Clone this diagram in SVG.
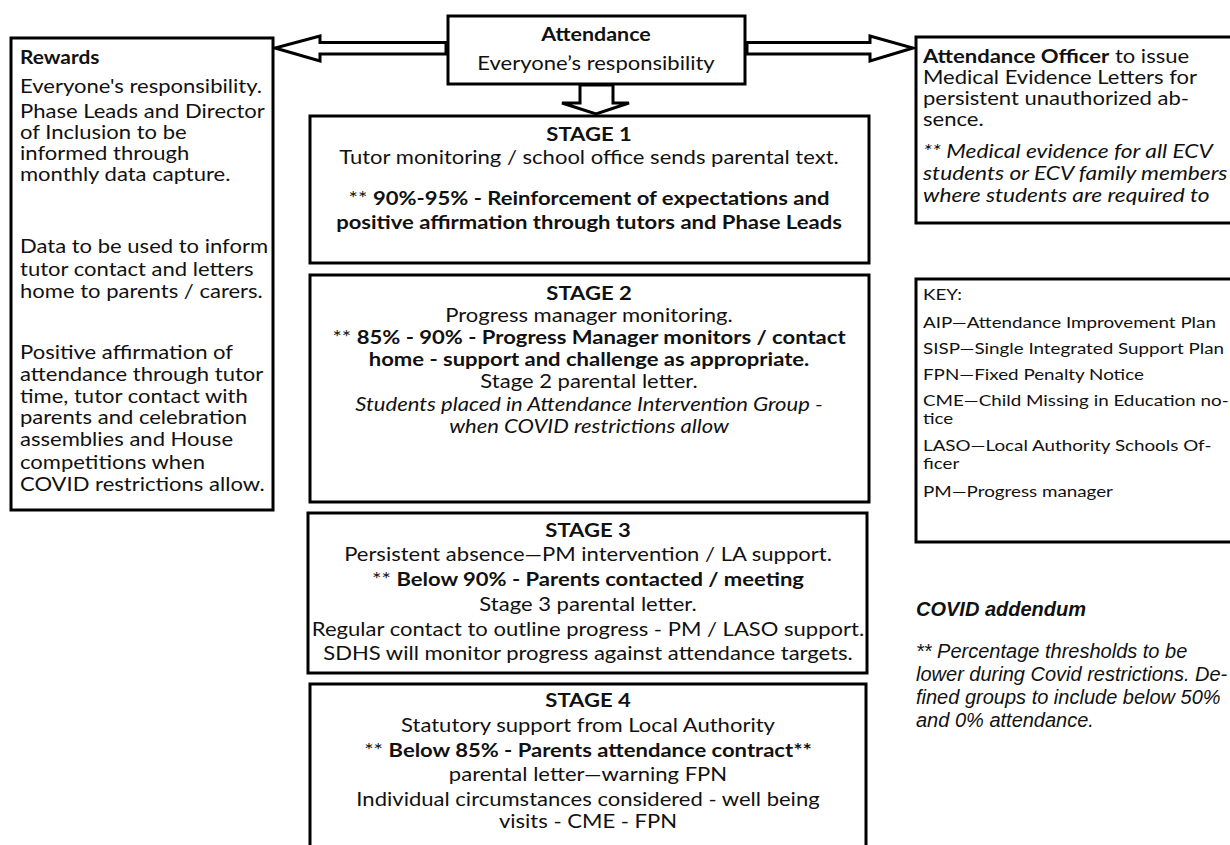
<svg xmlns="http://www.w3.org/2000/svg" width="1230" height="845" viewBox="0 0 1230 845">
<style>
.box{fill:#fff;stroke:#000;stroke-width:3}
.arr{fill:#fff;stroke:#000;stroke-width:3;stroke-linejoin:miter}
.t{font-family:Lato,"Open Sans","DejaVu Sans",sans-serif;fill:#111}
.c{text-anchor:middle}
.b{font-weight:bold}
.n{font-weight:normal}
.i{font-style:italic}
.a{font-family:"Liberation Sans",Arial,sans-serif;font-style:italic;fill:#111;font-size:20px}
</style>
<rect width="1230" height="845" fill="#fff"/>
<g id="connectors">
<polygon class="arr" points="446,42.5 320,42.5 320,36 275,48 320,61 320,54 446,54"/>
<polygon class="arr" points="747,42.5 870,42.5 870,36 913,48 870,61 870,54 747,54"/>
<polygon class="arr" points="580,85 613,85 613,103 629,103 596,114 562,103 580,103"/>
</g>
<g id="attendance">
<rect class="box" x="448" y="16" width="297" height="68"/>
<g class="t c" font-size="19" transform="translate(596,0) scale(1.16,1)">
<text class="b" x="0" y="41" font-size="18.5">Attendance</text>
<text x="0" y="70">Everyone’s responsibility</text>
</g>
</g>
<g id="rewards">
<rect class="box" x="11" y="38" width="262" height="472"/>
<g class="t" font-size="19" transform="translate(20,0) scale(1.16,1)">
<text class="b" x="0" y="64" font-size="18">Rewards</text>
<text x="0" y="93">Everyone's responsibility.</text>
<text x="0" y="118">Phase Leads and Director</text>
<text x="0" y="139">of Inclusion to be</text>
<text x="0" y="160">informed through</text>
<text x="0" y="181">monthly data capture.</text>
<text x="0" y="253">Data to be used to inform</text>
<text x="0" y="276">tutor contact and letters</text>
<text x="0" y="298">home to parents / carers.</text>
<text x="0" y="359">Positive affirmation of</text>
<text x="0" y="381">attendance through tutor</text>
<text x="0" y="403">time, tutor contact with</text>
<text x="0" y="424">parents and celebration</text>
<text x="0" y="446">assemblies and House</text>
<text x="0" y="469">competitions when</text>
<text x="0" y="491">COVID restrictions allow.</text>
</g>
</g>
<g id="officer">
<rect class="box" x="916" y="37" width="320" height="186"/>
<g class="t" font-size="19" transform="translate(923,0) scale(1.16,1)">
<text x="0" y="63"><tspan class="b">Attendance Officer</tspan> to issue</text>
<text x="0" y="84">Medical Evidence Letters for</text>
<text x="0" y="105">persistent unauthorized ab-</text>
<text x="0" y="126">sence.</text>
<text class="i" x="0" y="158" font-size="19.6">** Medical evidence for all ECV</text>
<text class="i" x="0" y="180" font-size="19.6">students or ECV family members</text>
<text class="i" x="0" y="202" font-size="19.6">where students are required to</text>
</g>
</g>
<g id="key">
<rect class="box" x="916" y="279" width="320" height="263"/>
<g class="t" font-size="16.2" transform="translate(923,0) scale(1.16,1)">
<text x="0" y="300">KEY:</text>
<text x="0" y="328">AIP—Attendance Improvement Plan</text>
<text x="0" y="354">SISP—Single Integrated Support Plan</text>
<text x="0" y="380">FPN—Fixed Penalty Notice</text>
<text x="0" y="406">CME—Child Missing in Education no-</text>
<text x="0" y="424">tice</text>
<text x="0" y="451">LASO—Local Authority Schools Of-</text>
<text x="0" y="469">ficer</text>
<text x="0" y="497">PM—Progress manager</text>
</g>
</g>
<g id="covid">
<text class="a b" x="916" y="616">COVID addendum</text>
<text class="a" x="916" y="658">** Percentage thresholds to be</text>
<text class="a" x="916" y="681">lower during Covid restrictions. De-</text>
<text class="a" x="916" y="704">fined groups to include below 50%</text>
<text class="a" x="916" y="727">and 0% attendance.</text>
</g>
<g id="stage1">
<rect class="box" x="310" y="116" width="559" height="147"/>
<g class="t c" font-size="19" transform="translate(589,0) scale(1.16,1)">
<text class="b" x="0" y="141">STAGE 1</text>
<text x="0" y="164">Tutor monitoring / school office sends parental text.</text>
<text class="b" x="0" y="205"><tspan class="n">** </tspan>90%-95% - Reinforcement of expectations and</text>
<text class="b" x="0" y="229">positive affirmation through tutors and Phase Leads</text>
</g>
</g>
<g id="stage2">
<rect class="box" x="310" y="275" width="559" height="227"/>
<g class="t c" font-size="19" transform="translate(589,0) scale(1.16,1)">
<text class="b" x="0" y="300">STAGE 2</text>
<text x="0" y="322">Progress manager monitoring.</text>
<text class="b" x="0" y="344"><tspan class="n">** </tspan>85% - 90% - Progress Manager monitors / contact</text>
<text class="b" x="0" y="366">home - support and challenge as appropriate.</text>
<text x="0" y="388">Stage 2 parental letter.</text>
<text class="i" x="0" y="411">Students placed in Attendance Intervention Group -</text>
<text class="i" x="0" y="433">when COVID restrictions allow</text>
</g>
</g>
<g id="stage3">
<rect class="box" x="308" y="513" width="559" height="160"/>
<g class="t c" font-size="19" transform="translate(588,0) scale(1.16,1)">
<text class="b" x="0" y="537">STAGE 3</text>
<text x="0" y="561">Persistent absence—PM intervention / LA support.</text>
<text class="b" x="0" y="586"><tspan class="n">** </tspan>Below 90% - Parents contacted / meeting</text>
<text x="0" y="611">Stage 3 parental letter.</text>
<text x="0" y="636">Regular contact to outline progress - PM / LASO support.</text>
<text x="0" y="660">SDHS will monitor progress against attendance targets.</text>
</g>
</g>
<g id="stage4">
<rect class="box" x="310" y="684" width="556" height="170"/>
<g class="t c" font-size="19" transform="translate(588,0) scale(1.16,1)">
<text class="b" x="0" y="707">STAGE 4</text>
<text x="0" y="732">Statutory support from Local Authority</text>
<text class="b" x="0" y="757"><tspan class="n">** </tspan>Below 85% - Parents attendance contract**</text>
<text x="0" y="781">parental letter—warning FPN</text>
<text x="0" y="806">Individual circumstances considered - well being</text>
<text x="0" y="828">visits - CME - FPN</text>
</g>
</g>
</svg>
